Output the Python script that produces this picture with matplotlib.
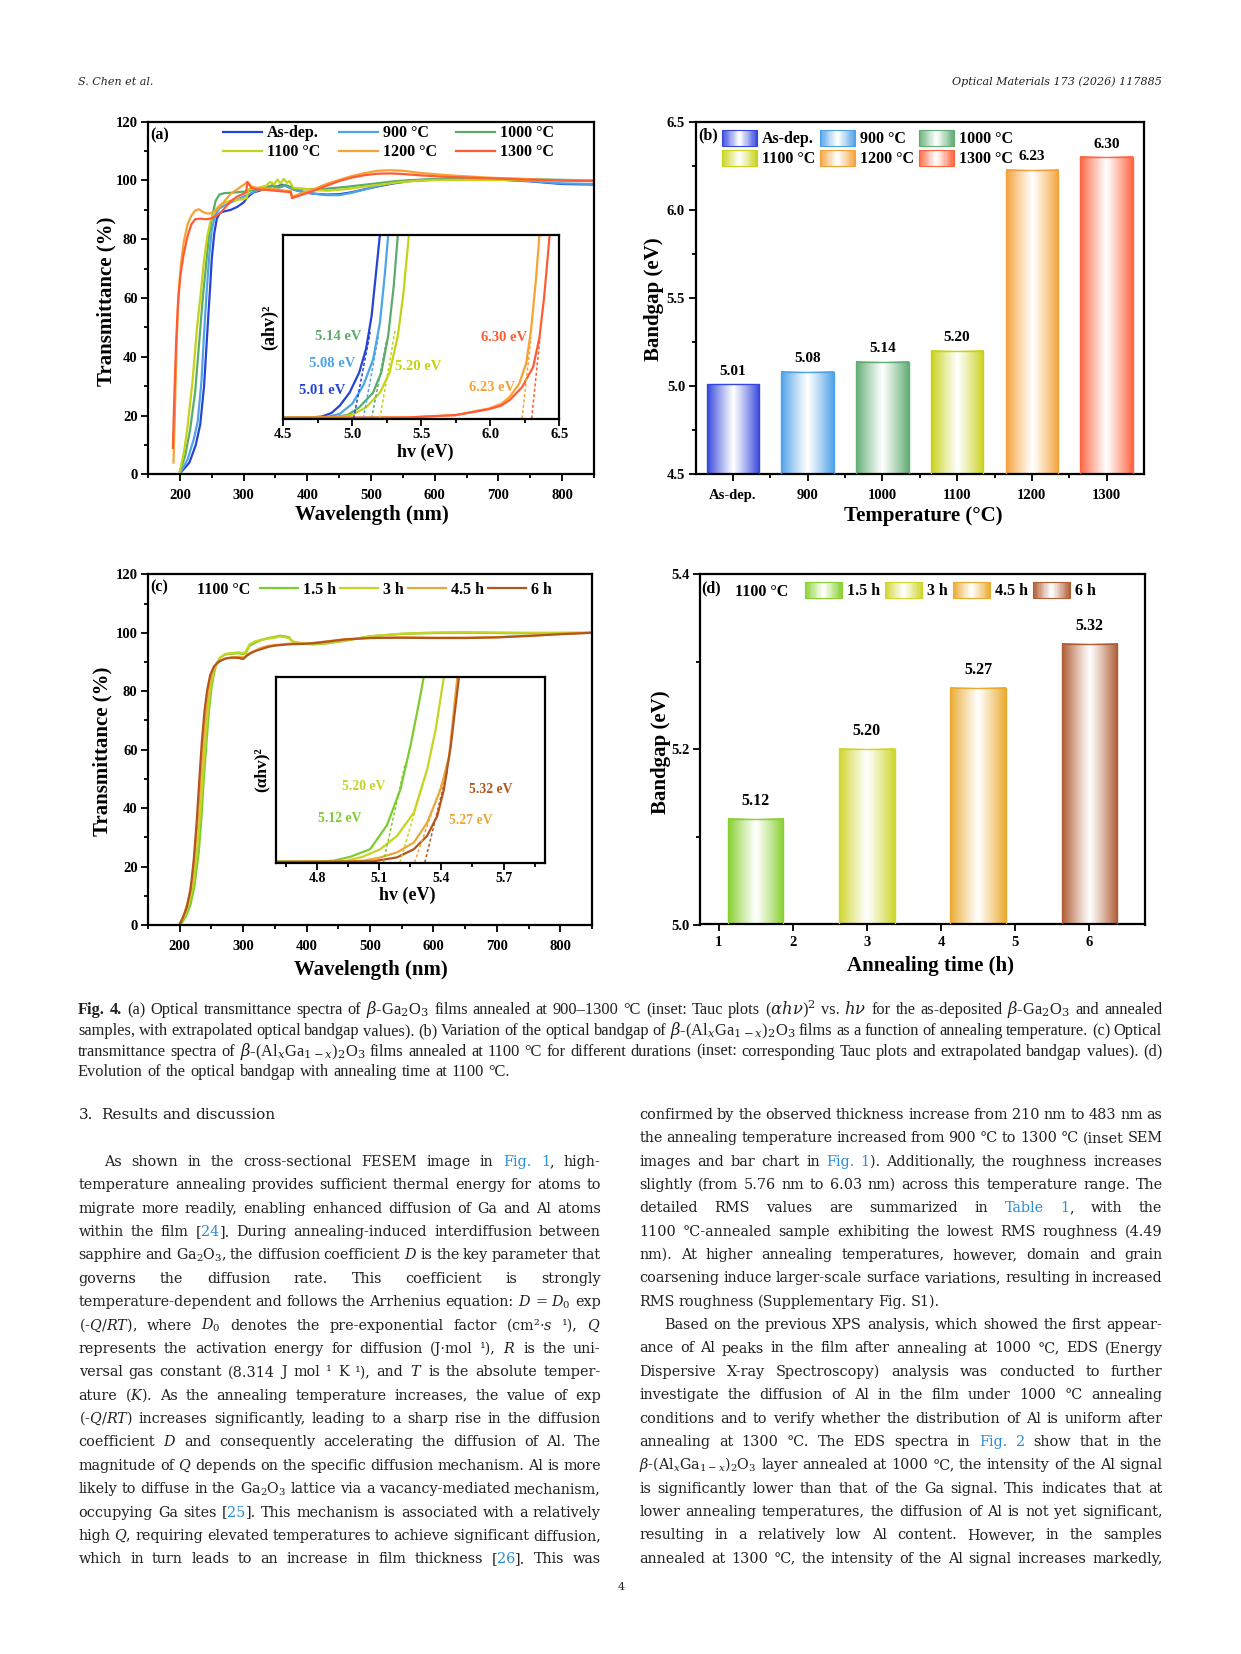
import re
import numpy as np
import matplotlib
matplotlib.use('Agg')
import matplotlib.pyplot as plt
from matplotlib.patches import Rectangle
from matplotlib.legend_handler import HandlerBase
from matplotlib.colors import to_rgb
from matplotlib.ticker import MultipleLocator, FixedLocator

# ======================= DATA =======================
# ---- (a) transmittance, annealing-temperature series
labels_a = ['As-dep.', '900 °C', '1000 °C', '1100 °C', '1200 °C', '1300 °C']
colors_a = ['#2643d6', '#4ea3ea', '#5cab6c', '#c3d417', '#f8a233', '#ff5b35']

wl_asdep = [203, 215, 225, 232, 238, 243, 247, 250, 254, 258, 263, 270, 280, 290, 300, 305, 310, 316, 325,
            335, 345, 352, 360, 368, 373, 380, 395, 410, 430, 450, 470, 500, 530, 560, 600, 650, 700, 750, 800, 850]
T_asdep = [1, 4, 10, 17, 30, 48, 62, 73, 82, 87, 89, 89.5, 90, 91, 92.5, 94, 95, 96, 96.5,
           97.5, 98.3, 97.8, 98.6, 98, 97.5, 96.8, 96, 95.5, 95.2, 95.3, 96, 97.5, 98.8, 99.8, 100.3, 100.4,
           100.3, 99.7, 98.8, 98.6]
wl_900 = [202, 212, 222, 228, 234, 238, 242, 246, 250, 255, 262, 270, 280, 290, 300, 310, 320, 335, 345,
          355, 365, 373, 380, 395, 410, 430, 450, 470, 500, 530, 560, 600, 650, 700, 750, 800, 850]
T_900 = [1, 5, 12, 18, 32, 48, 62, 74, 83, 88, 90.5, 91.5, 92.5, 93.5, 94.5, 95.5, 96.5, 97.3, 98,
         97.5, 98.2, 97.5, 96.8, 96, 95.5, 95, 95, 95.8, 97.5, 99, 100, 100.4, 100.5, 100.4, 99.8, 99, 98.8]
wl_1000 = [200, 208, 216, 224, 230, 236, 241, 246, 251, 256, 262, 270, 280, 290, 300, 310, 320, 335, 345,
           355, 365, 372, 380, 400, 430, 460, 500, 540, 580, 620, 680, 740, 800, 850]
T_1000 = [1, 6, 15, 28, 44, 60, 71, 82, 88, 93, 95.2, 95.7, 95.8, 96, 96.2, 96.5, 97, 97.5, 98.3,
          97.8, 98.5, 98, 97, 97, 97.2, 97.8, 98.8, 99.8, 100.3, 100.6, 100.8, 100.5, 100.2, 100]
wl_1100 = [200, 206, 212, 220, 227, 233, 238, 243, 248, 252, 258, 264, 272, 282, 292, 300, 305, 308, 315,
           325, 335, 342, 348, 353, 358, 363, 368, 372, 378, 390, 410, 430, 460, 500, 540, 580, 620, 680,
           740, 800, 850]
T_1100 = [1, 7, 16, 32, 50, 62, 73, 81, 86, 88.5, 90.5, 91.8, 92.6, 93.2, 93.5, 93.6, 94, 97, 97.2,
          97.6, 98.2, 99.5, 98.7, 100.3, 99, 100.5, 99.2, 99.8, 97.5, 97.3, 96.8, 96.5, 97, 98.2, 99.3, 100,
          100.2, 100.2, 100.1, 100, 100]
wl_1200 = [190, 192, 195, 198, 202, 206, 212, 218, 224, 230, 236, 242, 248, 255, 262, 270, 280, 290, 300,
           306, 312, 320, 335, 350, 365, 374, 376, 390, 410, 430, 450, 470, 490, 510, 530, 550, 580, 620,
           680, 740, 800, 850]
T_1200 = [4, 20, 45, 62, 72, 79, 85, 88, 89.8, 90.2, 89.3, 88.8, 88.8, 89.5, 91, 93, 95.5, 97, 98.5,
          99.5, 98, 97.5, 97.3, 97, 96.5, 96.5, 94.5, 95.5, 97, 98.8, 100.2, 101.5, 102.5, 103.3, 103.5,
          103.3, 102.5, 101.8, 101, 100.5, 100, 99.8]
wl_1300 = [189, 191, 194, 197, 201, 206, 212, 218, 224, 232, 240, 248, 256, 264, 272, 280, 290, 300, 304,
           306, 312, 320, 335, 350, 365, 374, 376, 390, 410, 430, 450, 470, 490, 510, 530, 550, 580, 620,
           680, 740, 800, 850]
T_1300 = [9, 24, 44, 58, 68, 75, 81, 85, 86.8, 87, 86.8, 87, 87.8, 89, 91, 93, 94.5, 95.5, 96,
          99.5, 97.5, 97, 96.8, 96.5, 96.2, 96, 94, 95, 96.5, 98.2, 99.8, 101, 101.8, 102.3, 102.4,
          102.2, 101.7, 101.2, 100.8, 100.3, 100, 99.8]

# ---- (a) inset: Tauc plots (normalised)
E_tauc_asdep = [4.5, 4.7, 4.78, 4.85, 4.91, 4.98, 5.05, 5.10, 5.14, 5.17, 5.20, 5.22]
y_tauc_asdep = [0.004, 0.005, 0.01, 0.03, 0.07, 0.14, 0.25, 0.38, 0.56, 0.78, 1.0, 1.15]
E_tauc_900 = [4.5, 4.75, 4.83, 4.91, 5.0, 5.08, 5.15, 5.2, 5.235, 5.26, 5.28]
y_tauc_900 = [0.004, 0.005, 0.01, 0.025, 0.08, 0.18, 0.32, 0.52, 0.78, 1.0, 1.15]
E_tauc_1000 = [4.5, 4.8, 4.9, 4.97, 5.05, 5.15, 5.21, 5.26, 5.30, 5.33, 5.35]
y_tauc_1000 = [0.004, 0.005, 0.01, 0.02, 0.06, 0.14, 0.25, 0.45, 0.72, 1.0, 1.15]
E_tauc_1100 = [4.5, 4.85, 4.93, 5.0, 5.1, 5.2, 5.27, 5.33, 5.37, 5.41, 5.43]
y_tauc_1100 = [0.004, 0.005, 0.01, 0.02, 0.06, 0.14, 0.25, 0.45, 0.68, 1.0, 1.15]
E_tauc_1200 = [4.5, 5.4, 5.75, 5.99, 6.08, 6.14, 6.21, 6.26, 6.295, 6.33, 6.356, 6.37]
y_tauc_1200 = [0.003, 0.005, 0.018, 0.054, 0.08, 0.117, 0.19, 0.30, 0.48, 0.75, 1.0, 1.1]
E_tauc_1300 = [4.5, 5.4, 5.75, 5.99, 6.08, 6.14, 6.23, 6.31, 6.356, 6.39, 6.43, 6.45]
y_tauc_1300 = [0.003, 0.005, 0.018, 0.05, 0.07, 0.1, 0.17, 0.28, 0.44, 0.66, 1.0, 1.1]
Eg_a = [5.01, 5.08, 5.14, 5.20, 6.23, 6.30]
fit_top_E_a = [5.13, 5.19, 5.25, 5.31, 6.295, 6.36]
fit_top_y_a = [0.47, 0.45, 0.43, 0.48, 0.44, 0.44]

# ---- (b) bandgap vs temperature
temps = ['As-dep.', '900', '1000', '1100', '1200', '1300']
bandgap_temp = [5.01, 5.08, 5.14, 5.20, 6.23, 6.30]
colors_b = ['#3446dc', '#4fa1e8', '#62ad74', '#c9d21a', '#f5a23a', '#ff6440']

# ---- (c) transmittance, annealing-time series at 1100 C
labels_c = ['1.5 h', '3 h', '4.5 h', '6 h']
colors_c = ['#7dcc2e', '#c6d424', '#eca63c', '#b3561e']
wl_15h = [203, 210, 217, 223, 230, 234, 238, 242, 246, 250, 254, 258, 264, 272, 282, 292, 300, 304, 310,
          318, 328, 340, 350, 358, 365, 372, 378, 390, 410, 430, 460, 500, 550, 600, 650, 700, 750, 800, 850]
T_15h = [0.6, 3, 7, 13, 25, 36, 50, 62, 73, 81, 86, 89.5, 91.5, 92.6, 92.8, 93, 92.7, 93, 95.5,
         96.5, 97.5, 98.2, 98.6, 99, 98.8, 98.5, 97, 96.4, 96, 96.3, 97.2, 98.8, 99.6, 99.9, 100, 99.9,
         99.8, 99.9, 100]
wl_3h = [201, 208, 215, 222, 228, 233, 237, 241, 245, 249, 253, 258, 264, 272, 282, 292, 300, 304, 310,
         318, 328, 340, 350, 358, 365, 372, 378, 390, 410, 430, 460, 500, 550, 600, 650, 700, 750, 800, 850]
T_3h = [0.6, 3, 8, 15, 27, 40, 53, 65, 75, 82, 86.5, 89.5, 91.5, 92.8, 93, 93.3, 93, 93.5, 96,
        97, 97.6, 98, 98.3, 98.7, 98.5, 98.2, 97, 96.5, 96.2, 96.4, 97.3, 98.8, 99.7, 100.1, 100.2,
        100.1, 100, 100, 100]
wl_45h = [200, 206, 213, 220, 226, 231, 235, 239, 243, 247, 252, 258, 265, 275, 285, 295, 302, 306, 312,
          320, 330, 340, 350, 360, 370, 380, 395, 410, 430, 460, 500, 550, 600, 650, 700, 750, 800, 850]
T_45h = [0.6, 3, 8, 16, 30, 44, 57, 68, 77, 83, 87, 89.3, 90.5, 91.3, 91.6, 91.8, 91.5, 92.5, 93.3,
         94, 95, 95.5, 95.8, 96, 96.2, 96.3, 96.3, 96.5, 97, 97.8, 98.2, 98.4, 98.3, 98.3, 98.5, 99,
         99.6, 100]
wl_6h = [201, 205, 211, 217, 222, 227, 231, 235, 239, 243, 248, 254, 262, 272, 282, 292, 300, 305, 312,
         320, 330, 340, 350, 360, 370, 380, 395, 410, 430, 460, 500, 550, 600, 650, 700, 750, 800, 850]
T_6h = [0.6, 2.5, 6, 12, 22, 36, 50, 63, 73, 80, 85.5, 88.5, 90.2, 91.2, 91.5, 91.4, 91, 92, 93,
        93.8, 94.5, 95.2, 95.6, 95.8, 96, 96.1, 96.2, 96.4, 96.9, 97.7, 98.2, 98.3, 98.2, 98.2, 98.4,
        98.9, 99.5, 100]

# ---- (c) inset Tauc plots
E_tauc_15h = [4.6, 4.8, 4.88, 4.96, 5.056, 5.137, 5.202, 5.25, 5.29, 5.315, 5.33]
y_tauc_15h = [0.003, 0.004, 0.009, 0.03, 0.071, 0.2, 0.393, 0.625, 0.85, 1.0, 1.1]
E_tauc_3h = [4.6, 4.85, 4.943, 5.02, 5.105, 5.186, 5.267, 5.331, 5.372, 5.412, 5.43]
y_tauc_3h = [0.003, 0.004, 0.009, 0.03, 0.071, 0.143, 0.268, 0.5, 0.714, 1.0, 1.1]
E_tauc_45h = [4.6, 4.9, 5.024, 5.1, 5.186, 5.267, 5.331, 5.396, 5.437, 5.477, 5.49]
y_tauc_45h = [0.003, 0.004, 0.009, 0.025, 0.054, 0.107, 0.214, 0.393, 0.571, 1.0, 1.1]
E_tauc_6h = [4.6, 4.95, 5.072, 5.186, 5.267, 5.331, 5.38, 5.412, 5.445, 5.485, 5.5]
y_tauc_6h = [0.003, 0.004, 0.006, 0.027, 0.071, 0.143, 0.25, 0.393, 0.625, 1.0, 1.1]
Eg_c = [5.12, 5.20, 5.27, 5.32]
fit_top_E_c = [5.226, 5.323, 5.404, 5.43]
fit_top_y_c = [0.536, 0.47, 0.43, 0.5]

# ---- (d) bandgap vs annealing time
times = [1.5, 3, 4.5, 6]
bandgap_time = [5.12, 5.20, 5.27, 5.32]
colors_d = ['#88d030', '#cfd62c', '#ebaa30', '#b05c34']

# ======================= FIGURE =======================
W, H = 1241, 1654
plt.rcParams.update({
    'font.family': ['Liberation Serif', 'DejaVu Serif'],
    'font.weight': 'bold',
    'axes.labelweight': 'bold',
    'mathtext.fontset': 'custom',
    'mathtext.rm': 'DejaVu Serif:style=normal:weight=normal',
    'mathtext.it': 'DejaVu Serif:style=italic:weight=normal',
    'mathtext.bf': 'DejaVu Serif:style=normal:weight=bold',
})
fig = plt.figure(figsize=(W / 100, H / 100), dpi=100)


def box(l, t, r, b):
    return [l / W, 1 - b / H, (r - l) / W, (b - t) / H]


def style(ax, lw=1.6, size=10.5, xpad=5.5, ypad=2.5):
    for s in ax.spines.values():
        s.set_linewidth(lw)
    ax.tick_params(which='both', direction='out', top=False, right=False, width=1.3)
    ax.tick_params(which='major', length=5, labelsize=size)
    ax.tick_params(which='minor', length=3)
    ax.tick_params(axis='x', pad=xpad)
    ax.tick_params(axis='y', pad=ypad)


def set_labels(ax, xl, yl, xc, yc, size=15):
    ax.set_xlabel(xl, fontsize=size, fontweight='bold')
    ax.set_ylabel(yl, fontsize=size, fontweight='bold')
    ax.xaxis.set_label_coords(*xc)
    ax.yaxis.set_label_coords(*yc)
    ax.xaxis.label.set_verticalalignment('center')
    ax.yaxis.label.set_verticalalignment('center')


def grad_rgb(color, n=64):
    c = np.array(to_rgb(color))
    t = (np.arange(n) + 0.5) / n
    f = np.abs(2 * t - 1) ** 1.1
    return c[None, :] * f[:, None] + (1 - f[:, None])


class GradHandler(HandlerBase):
    def create_artists(self, legend, orig_handle, xdescent, ydescent, width, height, fontsize, trans):
        col = orig_handle.get_facecolor()
        rgb = grad_rgb(col, 30)
        n = len(rgb)
        arts = [Rectangle((-xdescent + width * i / n, -ydescent), width / n * 1.05, height,
                          facecolor=rgb[i], edgecolor='none', transform=trans) for i in range(n)]
        arts.append(Rectangle((-xdescent, -ydescent), width, height, facecolor='none',
                              edgecolor=col, lw=0.8, transform=trans))
        return arts


def gradient_bars(ax, bars, colors):
    for p, c in zip(bars.patches, colors):
        img = grad_rgb(c)[None, :, :]
        ax.imshow(img, extent=[p.get_x(), p.get_x() + p.get_width(), p.get_y(),
                               p.get_y() + p.get_height()],
                  aspect='auto', zorder=2, interpolation='bilinear')


# ------------------- (a) -------------------
axA = fig.add_axes(box(148, 121.7, 594, 474.3))
wl_a = [wl_asdep, wl_900, wl_1000, wl_1100, wl_1200, wl_1300]
T_a = [T_asdep, T_900, T_1000, T_1100, T_1200, T_1300]
lines_a = []
for wl, T, c, lab in zip(wl_a, T_a, colors_a, labels_a):
    ln, = axA.plot(wl, T, color=c, lw=1.6, label=lab)
    lines_a.append(ln)
axA.set_xlim(150, 850)
axA.set_ylim(0, 120)
axA.set_xticks([200, 300, 400, 500, 600, 700, 800])
axA.xaxis.set_minor_locator(MultipleLocator(50))
axA.yaxis.set_major_locator(MultipleLocator(20))
axA.yaxis.set_minor_locator(MultipleLocator(10))
style(axA)
set_labels(axA, 'Wavelength (nm)', 'Transmittance (%)', (0.503, -0.115), (-0.092, 0.49))
order = [0, 3, 1, 4, 2, 5]
axA.legend([lines_a[i] for i in order], [labels_a[i] for i in order], ncol=3, loc='upper left',
           bbox_to_anchor=(0.168, 0.99), frameon=False, prop={'weight': 'bold', 'size': 11.5},
           handlelength=2.45, handletextpad=0.3, columnspacing=1.2, labelspacing=0.2,
           borderpad=0, borderaxespad=0)
axA.text(0.006, 0.96, '(a)', transform=axA.transAxes, fontsize=11.5, fontweight='bold',
         ha='left', va='center')

# inset (a)
axAi = fig.add_axes(box(283.3, 235, 559.3, 419.3))
E_a = [E_tauc_asdep, E_tauc_900, E_tauc_1000, E_tauc_1100, E_tauc_1200, E_tauc_1300]
y_a = [y_tauc_asdep, y_tauc_900, y_tauc_1000, y_tauc_1100, y_tauc_1200, y_tauc_1300]
for E, y, c in zip(E_a, y_a, colors_a):
    axAi.plot(E, y, color=c, lw=1.6)
for eg, et, yt, c in zip(Eg_a, fit_top_E_a, fit_top_y_a, colors_a):
    axAi.plot([eg, et], [0, yt], color=c, lw=1.1, ls=(0, (2, 1.5)))
axAi.set_xlim(4.5, 6.5)
axAi.set_ylim(-0.005, 1.0)
axAi.xaxis.set_major_locator(MultipleLocator(0.5))
axAi.xaxis.set_minor_locator(MultipleLocator(0.25))
axAi.set_yticks([])
style(axAi, lw=1.6, size=10.5, xpad=1.5)
axAi.set_xlabel('hv (eV)', fontsize=13, fontweight='bold')
axAi.xaxis.set_label_coords(0.513, -0.178)
axAi.xaxis.label.set_verticalalignment('center')
axAi.set_ylabel('(ahv)²', fontsize=13, fontweight='bold')
axAi.yaxis.set_label_coords(-0.05, 0.5)
axAi.yaxis.label.set_verticalalignment('center')
lab_kw = dict(fontsize=10.5, fontweight='bold', va='center')
axAi.text(5.065, 0.448, '5.14 eV', color=colors_a[2], ha='right', **lab_kw)
axAi.text(5.02, 0.298, '5.08 eV', color=colors_a[1], ha='right', **lab_kw)
axAi.text(4.947, 0.15, '5.01 eV', color=colors_a[0], ha='right', **lab_kw)
axAi.text(5.31, 0.285, '5.20 eV', color=colors_a[3], ha='left', **lab_kw)
axAi.text(6.264, 0.44, '6.30 eV', color=colors_a[5], ha='right', **lab_kw)
axAi.text(6.179, 0.171, '6.23 eV', color=colors_a[4], ha='right', **lab_kw)

# ------------------- (b) -------------------
axB = fig.add_axes(box(695.5, 122, 1144, 474.3))
x_b = np.arange(len(temps))
bars_b = axB.bar(x_b, bandgap_temp, width=0.7, facecolor='none', edgecolor=colors_b,
                 linewidth=1.0, zorder=3)
gradient_bars(axB, bars_b, colors_b)
for xv, v in zip(x_b, bandgap_temp):
    axB.annotate(f'{v:.2f}', (xv, v), xytext=(0, 9.5), textcoords='offset points',
                 ha='center', va='center', fontsize=11, fontweight='bold')
axB.set_xlim(-0.5, len(temps) - 0.5)
axB.set_ylim(4.5, 6.5)
axB.set_xticks(x_b)
axB.set_xticklabels(temps)
axB.xaxis.set_minor_locator(FixedLocator(x_b[:-1] + 0.5))
axB.yaxis.set_major_locator(MultipleLocator(0.5))
axB.yaxis.set_minor_locator(MultipleLocator(0.25))
style(axB)
set_labels(axB, 'Temperature (°C)', 'Bandgap (eV)', (0.507, -0.118), (-0.0925, 0.496))
proxies_b = [Rectangle((0, 0), 1, 1, facecolor=c) for c in colors_b]
axB.legend([proxies_b[i] for i in order], [(temps[0] if i == 0 else temps[i] + ' °C') for i in order],
           ncol=3, loc='upper left', bbox_to_anchor=(0.059, 0.978), frameon=False,
           prop={'weight': 'bold', 'size': 11.5}, handlelength=2.2, handleheight=1.15,
           handletextpad=0.3, columnspacing=0.3, labelspacing=0.18, borderpad=0, borderaxespad=0,
           handler_map={Rectangle: GradHandler()})
axB.text(0.006, 0.962, '(b)', transform=axB.transAxes, fontsize=11.5, fontweight='bold',
         ha='left', va='center')

# ------------------- (c) -------------------
axC = fig.add_axes(box(148, 574.3, 592, 925))
wl_c = [wl_15h, wl_3h, wl_45h, wl_6h]
T_c = [T_15h, T_3h, T_45h, T_6h]
lines_c = []
for wl, T, c, lab in zip(wl_c, T_c, colors_c, labels_c):
    ln, = axC.plot(wl, T, color=c, lw=1.6, label=lab)
    lines_c.append(ln)
axC.set_xlim(150, 850)
axC.set_ylim(0, 120)
axC.set_xticks([200, 300, 400, 500, 600, 700, 800])
axC.xaxis.set_minor_locator(MultipleLocator(50))
axC.yaxis.set_major_locator(MultipleLocator(20))
axC.yaxis.set_minor_locator(MultipleLocator(10))
style(axC)
set_labels(axC, 'Wavelength (nm)', 'Transmittance (%)', (0.503, -0.128), (-0.102, 0.496))
axC.legend(lines_c, labels_c, ncol=4, loc='upper left', bbox_to_anchor=(0.252, 0.978),
           frameon=False, prop={'weight': 'bold', 'size': 11.5}, handlelength=2.4,
           handletextpad=0.3, columnspacing=0.25, borderpad=0, borderaxespad=0)
axC.text(0.11, 0.955, '1100 °C', transform=axC.transAxes, fontsize=11.5, fontweight='bold',
         ha='left', va='center')
axC.text(0.004, 0.964, '(c)', transform=axC.transAxes, fontsize=11.5, fontweight='bold',
         ha='left', va='center')

# inset (c)
axCi = fig.add_axes(box(275.7, 676.7, 545, 863.3))
E_c = [E_tauc_15h, E_tauc_3h, E_tauc_45h, E_tauc_6h]
y_c = [y_tauc_15h, y_tauc_3h, y_tauc_45h, y_tauc_6h]
for E, y, c in zip(E_c, y_c, colors_c):
    axCi.plot(E, y, color=c, lw=1.6)
for eg, et, yt, c in zip(Eg_c, fit_top_E_c, fit_top_y_c, colors_c):
    axCi.plot([eg, et], [0, yt], color=c, lw=1.1, ls=(0, (2, 1.5)))
axCi.set_xlim(4.6, 5.9)
axCi.set_ylim(-0.005, 1.0)
axCi.set_xticks([4.8, 5.1, 5.4, 5.7])
axCi.xaxis.set_minor_locator(FixedLocator([4.65, 4.95, 5.25, 5.55, 5.85]))
axCi.set_yticks([])
style(axCi, lw=1.6, size=10, xpad=1.5)
axCi.set_xlabel('hv (eV)', fontsize=13, fontweight='bold')
axCi.xaxis.set_label_coords(0.49, -0.17)
axCi.xaxis.label.set_verticalalignment('center')
axCi.set_ylabel('(αhv)²', fontsize=12.5, fontweight='bold')
axCi.yaxis.set_label_coords(-0.052, 0.5)
axCi.yaxis.label.set_verticalalignment('center')
lab_kw = dict(fontsize=9.8, fontweight='bold', va='center', ha='center')
axCi.text(5.024, 0.41, '5.20 eV', color=colors_c[1], **lab_kw)
axCi.text(4.907, 0.236, '5.12 eV', color=colors_c[0], **lab_kw)
axCi.text(5.639, 0.39, '5.32 eV', color=colors_c[3], **lab_kw)
axCi.text(5.542, 0.223, '5.27 eV', color=colors_c[2], **lab_kw)

# ------------------- (d) -------------------
axD = fig.add_axes(box(700, 574.3, 1145, 924.5))
bars_d = axD.bar(times, bandgap_time, width=0.75, facecolor='none', edgecolor=colors_d,
                 linewidth=1.0, zorder=3)
gradient_bars(axD, bars_d, colors_d)
for xv, v in zip(times, bandgap_time):
    axD.annotate(f'{v:.2f}', (xv, v), xytext=(0, 13), textcoords='offset points',
                 ha='center', va='center', fontsize=11.5, fontweight='bold')
axD.set_xlim(0.75, 6.75)
axD.set_ylim(5.0, 5.4)
axD.xaxis.set_major_locator(MultipleLocator(1))
axD.yaxis.set_major_locator(MultipleLocator(0.2))
axD.yaxis.set_minor_locator(MultipleLocator(0.1))
style(axD, xpad=3)
set_labels(axD, 'Annealing time (h)', 'Bandgap (eV)', (0.519, -0.1185), (-0.087, 0.493))
proxies_d = [Rectangle((0, 0), 1, 1, facecolor=c) for c in colors_d]
axD.legend(proxies_d, labels_c, ncol=4, loc='upper left', bbox_to_anchor=(0.236, 0.979),
           frameon=False, prop={'weight': 'bold', 'size': 11.5}, handlelength=2.3,
           handleheight=1.15, handletextpad=0.3, columnspacing=0.35, borderpad=0,
           borderaxespad=0, handler_map={Rectangle: GradHandler()})
axD.text(0.079, 0.949, '1100 °C', transform=axD.transAxes, fontsize=11.5, fontweight='bold',
         ha='left', va='center')
axD.text(0.003, 0.961, '(d)', transform=axD.transAxes, fontsize=11.5, fontweight='bold',
         ha='left', va='center')

# ======================= PAGE TEXT =======================
renderer = fig.canvas.get_renderer()
LINK = '#2b8cd6'
INK = '#231f20'


def split_words(line):
    out, cur = [], ''
    for w in line.split(' '):
        cur = w if cur == '' else cur + ' ' + w
        if cur.count('$') % 2 == 0:
            out.append(cur)
            cur = ''
    if cur:
        out.append(cur)
    return out


def put_line(x0, x1, yb, line, size, family, justify=True, style_='normal'):
    groups = []
    for w in split_words(line):
        bold = w.startswith('^')
        if bold:
            w = w[1:]
        arts = []
        for i, p in enumerate(re.split(r'[‹›]', w)):
            if not p:
                continue
            t = fig.text(0, 0, p, fontsize=size, family=family, style=style_,
                         fontweight='bold' if bold else 'normal',
                         color=LINK if i % 2 else INK, va='baseline', ha='left')
            arts.append(t)
        groups.append(arts)

    def measure():
        return [[t.get_window_extent(renderer).width for t in g] for g in groups]

    widths = measure()
    total = sum(sum(w) for w in widths)
    n = len(groups)
    em = size * 100 / 72
    mingap = 0.22 * em
    if justify and n > 1 and total + (n - 1) * mingap > (x1 - x0):
        scale = (x1 - x0 - (n - 1) * mingap) / total
        for g in groups:
            for t in g:
                t.set_fontsize(size * scale)
        widths = measure()
        total = sum(sum(w) for w in widths)
    if justify and n > 1:
        gap = max((x1 - x0 - total) / (n - 1), mingap * 0.8)
    else:
        gap = 0.28 * em
    x = x0
    for g, ws in zip(groups, widths):
        for t, wpx in zip(g, ws):
            t.set_position((x / W, 1 - yb / H))
            x += wpx
        x += gap


# header
fig.text(78 / W, 1 - 85 / H, 'S. Chen et al.', fontsize=8, family='DejaVu Serif', style='italic',
         fontweight='normal', color=INK, va='baseline', ha='left')
fig.text(1162 / W, 1 - 85 / H, 'Optical Materials 173 (2026) 117885', fontsize=8,
         family='DejaVu Serif', style='italic', fontweight='normal', color=INK,
         va='baseline', ha='right')
fig.text(621 / W, 1 - 1590 / H, '4', fontsize=8, family='DejaVu Serif', fontweight='normal',
         color=INK, va='baseline', ha='center')

# caption
caption = [
    "^Fig. ^4. (a) Optical transmittance spectra of $\\beta$-Ga$_2$O$_3$ films annealed at 900–1300 °C "
    "(inset: Tauc plots ($\\alpha h\\nu$)$^2$ vs. $h\\nu$ for the as-deposited $\\beta$-Ga$_2$O$_3$ and annealed",
    "samples, with extrapolated optical bandgap values). (b) Variation of the optical bandgap of "
    "$\\beta$-(Al$_x$Ga$_{1-x}$)$_2$O$_3$ films as a function of annealing temperature. (c) Optical",
    "transmittance spectra of $\\beta$-(Al$_x$Ga$_{1-x}$)$_2$O$_3$ films annealed at 1100 °C for different "
    "durations (inset: corresponding Tauc plots and extrapolated bandgap values). (d)",
    "Evolution of the optical bandgap with annealing time at 1100 °C.",
]
for i, ln in enumerate(caption):
    put_line(78, 1162, 1014.5 + i * 20.5, ln, 11.8, 'Liberation Serif', justify=(i < len(caption) - 1))

# left column
put_line(78.6, 600.7, 1119, '3.  Results and discussion', 11, 'DejaVu Serif', justify=False)
left = [
    "As shown in the cross-sectional FESEM image in ‹Fig.› ‹1›, high-",
    "temperature annealing provides sufficient thermal energy for atoms to",
    "migrate more readily, enabling enhanced diffusion of Ga and Al atoms",
    "within the film [‹24›]. During annealing-induced interdiffusion between",
    "sapphire and Ga$_2$O$_3$, the diffusion coefficient $D$ is the key parameter that",
    "governs the diffusion rate. This coefficient is strongly",
    "temperature-dependent and follows the Arrhenius equation: $D$ = $D_0$ exp",
    "(-$Q/RT$), where $D_0$ denotes the pre-exponential factor (cm²·$s$ ¹), $Q$",
    "represents the activation energy for diffusion (J·mol ¹), $R$ is the uni-",
    "versal gas constant (8.314 J mol ¹ K ¹), and $T$ is the absolute temper-",
    "ature ($K$). As the annealing temperature increases, the value of exp",
    "(-$Q/RT$) increases significantly, leading to a sharp rise in the diffusion",
    "coefficient $D$ and consequently accelerating the diffusion of Al. The",
    "magnitude of $Q$ depends on the specific diffusion mechanism. Al is more",
    "likely to diffuse in the Ga$_2$O$_3$ lattice via a vacancy-mediated mechanism,",
    "occupying Ga sites [‹25›]. This mechanism is associated with a relatively",
    "high $Q$, requiring elevated temperatures to achieve significant diffusion,",
    "which in turn leads to an increase in film thickness [‹26›]. This was",
]
for i, ln in enumerate(left):
    x0 = 103.6 if i == 0 else 78.6
    put_line(x0, 600.7, 1166 + i * 23.37, ln, 10.4, 'DejaVu Serif')

right = [
    "confirmed by the observed thickness increase from 210 nm to 483 nm as",
    "the annealing temperature increased from 900 °C to 1300 °C (inset SEM",
    "images and bar chart in ‹Fig.› ‹1›). Additionally, the roughness increases",
    "slightly (from 5.76 nm to 6.03 nm) across this temperature range. The",
    "detailed RMS values are summarized in ‹Table› ‹1›, with the",
    "1100 °C-annealed sample exhibiting the lowest RMS roughness (4.49",
    "nm). At higher annealing temperatures, however, domain and grain",
    "coarsening induce larger-scale surface variations, resulting in increased",
    "RMS roughness (Supplementary Fig. S1).",
    "Based on the previous XPS analysis, which showed the first appear-",
    "ance of Al peaks in the film after annealing at 1000 °C, EDS (Energy",
    "Dispersive X-ray Spectroscopy) analysis was conducted to further",
    "investigate the diffusion of Al in the film under 1000 °C annealing",
    "conditions and to verify whether the distribution of Al is uniform after",
    "annealing at 1300 °C. The EDS spectra in ‹Fig.› ‹2› show that in the",
    "$\\beta$-(Al$_x$Ga$_{1-x}$)$_2$O$_3$ layer annealed at 1000 °C, the intensity of the Al signal",
    "is significantly lower than that of the Ga signal. This indicates that at",
    "lower annealing temperatures, the diffusion of Al is not yet significant,",
    "resulting in a relatively low Al content. However, in the samples",
    "annealed at 1300 °C, the intensity of the Al signal increases markedly,",
]
for i, ln in enumerate(right):
    x0 = 664 if i == 9 else 639.3
    put_line(x0, 1162.5, 1119 + i * 23.35, ln, 10.4, 'DejaVu Serif', justify=(i != 8))

fig.savefig('out.png', dpi=100)
